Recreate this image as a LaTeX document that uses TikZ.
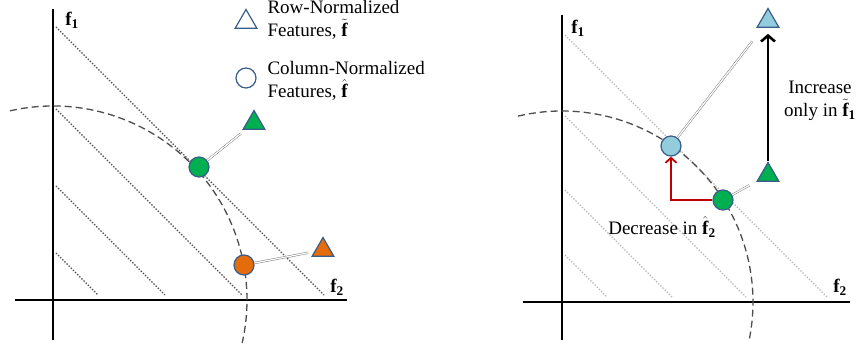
\documentclass[tikz,border=0pt]{standalone}
\usepackage{amsmath}
\usepackage{fontspec}
\setmainfont{Liberation Serif}
\usetikzlibrary{arrows.meta,shapes.geometric}
\definecolor{edgeblue}{HTML}{385D8A}
\definecolor{ptgreen}{HTML}{00B050}
\definecolor{ptorange}{HTML}{E46C0A}
\definecolor{ptblue}{HTML}{93CDDD}
\definecolor{ringgray}{HTML}{4D4D4D}
\newcommand{\fvec}{\textbf{f}}
\begin{document}
\begin{tikzpicture}[x=1pt, y=1pt, every node/.style={font=\fontsize{19}{23}\selectfont},
	pt/.style={circle, draw=edgeblue, line width=1.2pt, minimum size=20pt, inner sep=0pt},
	tri/.style={regular polygon, regular polygon sides=3, draw=edgeblue, line width=1.2pt, minimum size=25pt, inner sep=0pt},
	link/.style={draw=gray, double=white, line width=0.5pt, double distance=1.2pt},
	axis/.style={line width=1.6pt},
	ring/.style={ringgray, line width=1.3pt, dash pattern=on 7pt off 4pt},
	level/.style={line width=1.3pt, dash pattern=on 1.4pt off 1.6pt}]
	\useasboundingbox (0,0) rectangle (857,345);
	% left: feature space with both normalisations
	\begin{scope}[shift={(53,45)}]
		\foreach \c in {50,117,194,276}
			\draw[level, ringgray] (3,\c-3) -- (\c-5,5);
		\draw[axis] (0,-40) -- (0,291);
		\draw[axis] (-38,0) -- (294,0);
		\draw[ring] (102.8:194) arc[start angle=102.8, end angle=-12.8, radius=194];
	\end{scope}
	\node (f1a) at (72,325) {$\fvec_{\textbf{1}}$};
	\node (f2a) at (337,58) {$\fvec_{\textbf{2}}$};
	\node[tri, fill=white] (legtri) at (246,323) {};
	\node[pt, fill=white] (legcirc) at (246,267) {};
	\node[anchor=west, align=left] (legrow) at (264,325) {Row-Normalized\\Features, $\tilde{\fvec}$};
	\node[anchor=west, align=left] (legcol) at (264,264) {Column-Normalized\\Features, $\hat{\fvec}$};
	\node[pt, fill=ptgreen] (g1) at (199,178) {};
	\node[pt, fill=ptorange] (o1) at (244,80) {};
	\node[tri, fill=ptgreen] (gt1) at (254,222) {};
	\node[tri, fill=ptorange] (ot1) at (323,95) {};
	\draw[link, shorten >=6pt] (g1) -- (gt1);
	\draw[link, shorten >=6pt] (o1) -- (ot1);
	% right: moving one feature
	\begin{scope}[shift={(562,43)}]
		\foreach \c in {50,115,189,270}
			\draw[level, gray!55] (3,\c-3) -- (\c-5,5);
		\draw[axis] (0,-38) -- (0,287);
		\draw[axis] (-39,0) -- (288,0);
		\draw[ring] (103.3:191) arc[start angle=103.3, end angle=-11.6, radius=191];
	\end{scope}
	\node (f1b) at (578,317) {$\fvec_{\textbf{1}}$};
	\node (f2b) at (840,58) {$\fvec_{\textbf{2}}$};
	\node[pt, fill=ptblue] (lb2) at (671,199) {};
	\node[pt, fill=ptgreen] (g2) at (723,145) {};
	\node[tri, fill=ptblue] (lbt2) at (768,324) {};
	\node[tri, fill=ptgreen] (gt2) at (768,170) {};
	\draw[link, shorten >=17pt] (lb2) -- (lbt2);
	\draw[link, shorten >=8pt] (g2) -- (gt2);
	\draw[line width=2.6pt, -{Straight Barb[length=6pt, width=14pt]}, shorten >=6pt] (gt2.north) -- (lbt2.south);
	\draw[red!75!black, line width=1.8pt, -{Straight Barb[length=5pt, width=11pt]}] (g2.west) -| (lb2.south);
	\node (dec) at (662,118) {Decrease in $\hat{\fvec}_{\textbf{2}}$};
	\node[align=center] (inc) at (820,244) {Increase\\only in $\tilde{\fvec}_{\textbf{1}}$};
\end{tikzpicture}
\end{document}
